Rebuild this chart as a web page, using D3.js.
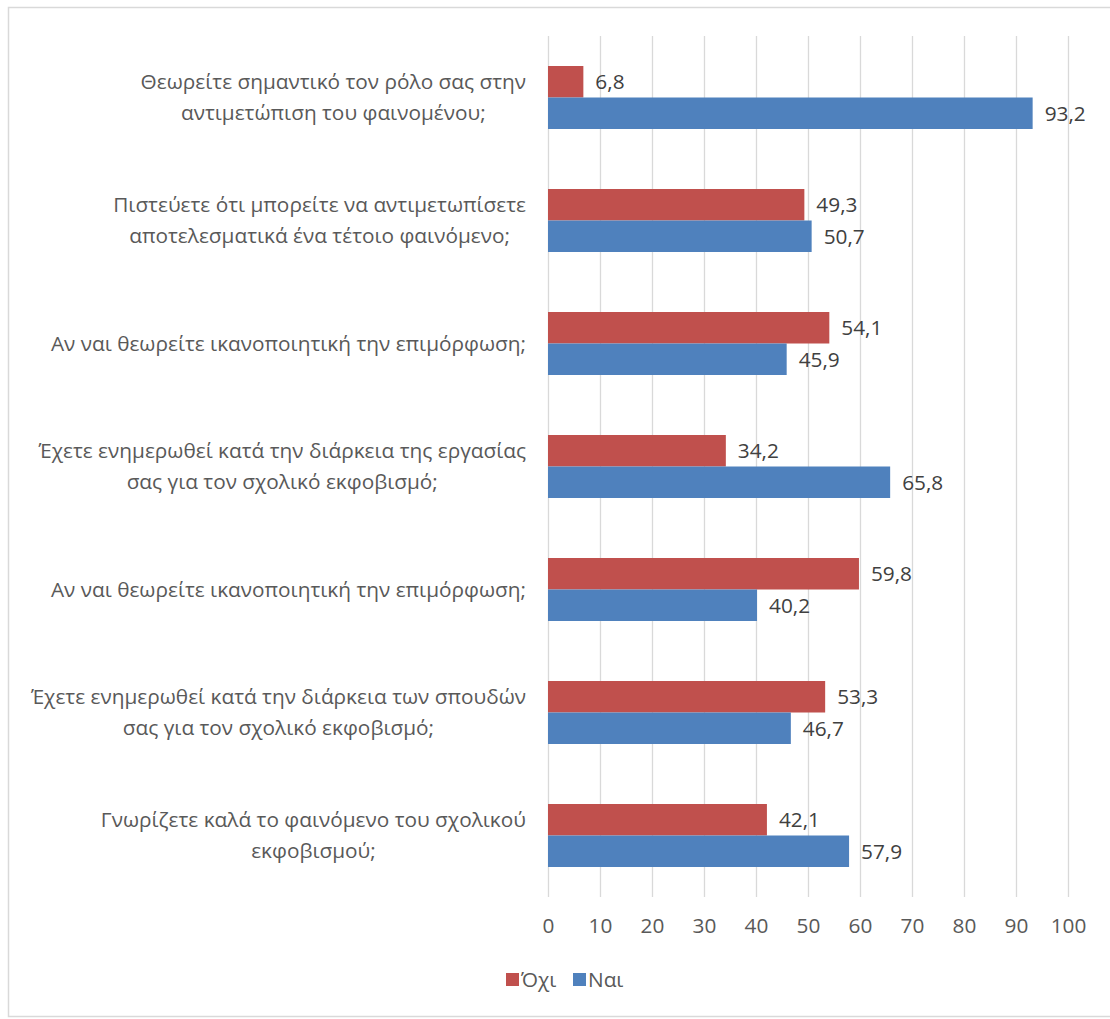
<!DOCTYPE html>
<html>
<head>
<meta charset="utf-8">
<script src="https://cdn.jsdelivr.net/npm/d3@7"></script>
<style>
  html, body { margin: 0; padding: 0; background: #ffffff; }
  svg { display: block; }
  text { font-family: "Open Sans", "Noto Sans", sans-serif; }
</style>
</head>
<body>
<svg id="chart" width="1110" height="1019"></svg>
<script>
// Survey questions (top to bottom), lines split with "\n"
const categories = [
  "Θεωρείτε σημαντικό τον ρόλο σας στην\nαντιμετώπιση του φαινομένου;",
  "Πιστεύετε ότι μπορείτε να αντιμετωπίσετε\nαποτελεσματικά ένα τέτοιο φαινόμενο;",
  "Αν ναι θεωρείτε ικανοποιητική την επιμόρφωση;",
  "Έχετε ενημερωθεί κατά την διάρκεια της εργασίας\nσας για τον σχολικό εκφοβισμό;",
  "Αν ναι θεωρείτε ικανοποιητική την επιμόρφωση;",
  "Έχετε ενημερωθεί κατά την διάρκεια των σπουδών\nσας για τον σχολικό εκφοβισμό;",
  "Γνωρίζετε καλά το φαινόμενο του σχολικού\nεκφοβισμού;"
];
const seriesNames = ["Όχι", "Ναι"];
const valuesNo  = [6.8, 49.3, 54.1, 34.2, 59.8, 53.3, 42.1];
const valuesYes = [93.2, 50.7, 45.9, 65.8, 40.2, 46.7, 57.9];
const xTicks = [0, 10, 20, 30, 40, 50, 60, 70, 80, 90, 100];
const colors = ["#C0504D", "#4F81BD"];

const fontSize = 20.8;
const svg = d3.select("#chart");

// Outer chart frame (right edge runs past the canvas)
svg.append("rect")
  .attr("x", 8.5).attr("y", 7.5)
  .attr("width", 1110).attr("height", 1009)
  .attr("fill", "#ffffff").attr("stroke", "#d9d9d9").attr("stroke-width", 1.5);

const plot = { left: 548, right: 1068, top: 36, bottom: 897 };

const x = d3.scaleLinear().domain([0, 100]).range([plot.left, plot.right]);
const gap = 60 / 123;
const y = d3.scaleBand()
  .domain(d3.range(categories.length))
  .range([plot.top, plot.bottom])
  .paddingInner(gap).paddingOuter(gap / 2);
const ySub = d3.scaleBand().domain([0, 1]).range([0, y.bandwidth()]);

// Vertical gridlines
svg.append("g").selectAll("line")
  .data(xTicks).join("line")
  .attr("x1", d => Math.round(x(d)) + 0.5).attr("x2", d => Math.round(x(d)) + 0.5)
  .attr("y1", plot.top).attr("y2", plot.bottom)
  .attr("stroke", "#d9d9d9").attr("stroke-width", 1.3);

// X axis tick labels
const xAxis = d3.axisBottom(x).tickValues(xTicks).tickSize(0).tickPadding(0);
const gx = svg.append("g").attr("transform", `translate(0,${plot.bottom + 21})`).call(xAxis);
gx.select(".domain").remove();
gx.selectAll("text")
  .attr("fill", "#595959").attr("font-size", fontSize)
  .attr("font-family", "Open Sans, sans-serif");

// Bars with value labels
const series = [valuesNo, valuesYes];
const groups = svg.append("g").selectAll("g")
  .data(series).join("g")
  .attr("fill", (d, i) => colors[i]);

groups.each(function(vals, si) {
  const g = d3.select(this);
  g.selectAll("rect").data(vals).join("rect")
    .attr("x", x(0))
    .attr("y", (d, i) => y(i) + ySub(si))
    .attr("width", d => x(d) - x(0))
    .attr("height", ySub.bandwidth());
  g.selectAll("text").data(vals).join("text")
    .attr("x", d => x(d) + 12)
    .attr("y", (d, i) => y(i) + ySub(si) + ySub.bandwidth() / 2)
    .attr("dy", "0.35em")
    .attr("fill", "#404040").attr("font-size", fontSize)
    .text(d => d.toFixed(1).replace(".", ","));
});

// Category labels: lines centred on each other, block right-aligned to the axis
const labelRight = 526;
const lineH = 31;
const catG = svg.append("g");
categories.forEach((label, i) => {
  const lines = label.split("\n");
  const cy = y(i) + y.bandwidth() / 2;
  const t = catG.append("text")
    .attr("fill", "#595959").attr("font-size", fontSize)
    .attr("text-anchor", "middle");
  const spans = lines.map((ln, k) => t.append("tspan")
    .attr("y", cy + (k - (lines.length - 1) / 2) * lineH)
    .attr("dy", "0.35em")
    .text(ln));
  const widths = spans.map(s => s.node().getComputedTextLength());
  const maxW = d3.max(widths);
  spans.forEach(s => s.attr("x", labelRight - maxW / 2));
});

// Legend
const legend = svg.append("g");
const legendItems = [
  { name: seriesNames[0], color: colors[0], x: 506 },
  { name: seriesNames[1], color: colors[1], x: 573 }
];
legendItems.forEach(it => {
  legend.append("rect")
    .attr("x", it.x).attr("y", 973)
    .attr("width", 13).attr("height", 13)
    .attr("fill", it.color);
  legend.append("text")
    .attr("x", it.x + 15).attr("y", 980)
    .attr("dy", "0.35em")
    .attr("fill", "#595959").attr("font-size", fontSize)
    .text(it.name);
});
</script>
</body>
</html>
